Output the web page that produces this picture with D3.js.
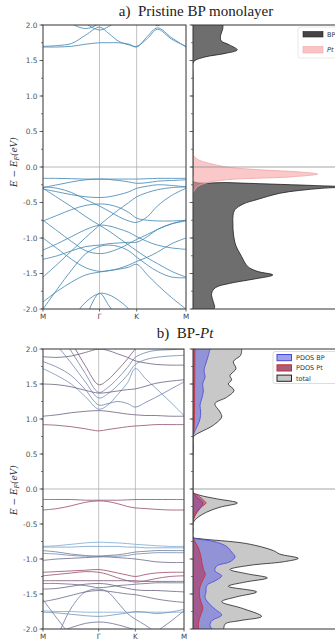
<!DOCTYPE html>
<html><head><meta charset="utf-8">
<script src="https://cdn.jsdelivr.net/npm/d3@7"></script>
<style>html,body{margin:0;padding:0;background:#fff}svg{display:block}</style>
</head><body>
<svg id="fig" width="335" height="642"></svg>
<script>
// ---- k-path and energy ticks ----
const kTicks = [0, 0.395, 0.655, 1];
const kTickLabels = ["M", "Γ", "K", "M"];
const kGrid = [0, 0.1, 0.2, 0.3, 0.395, 0.46, 0.53, 0.6, 0.655, 0.73, 0.8, 0.9, 1.0];
const energyTicks = [-2, -1.5, -1, -0.5, 0, 0.5, 1, 1.5, 2];
const energyMinorTicks = d3.range(-2, 2.001, 0.25);

// ---- bands of the pristine BP monolayer (eV, sampled on kGrid) ----
const bandsBP = [
  [1.69, 1.69, 1.70, 1.73, 1.75, 1.75, 1.75, 1.73, 1.69, 1.84, 1.96, 1.82, 1.69],
  [1.70, 1.71, 1.74, 1.86, 1.97, 1.88, 1.77, 1.72, 1.70, 1.81, 1.94, 1.80, 1.70],
  [2.60, 2.40, 2.20, 2.02, 1.93, 1.98, 2.08, 2.20, 2.30, 2.15, 1.99, 2.20, 2.40],
  [2.40, 2.20, 2.02, 1.95, 2.02, 2.10, 2.20, 2.30, 2.40, 2.30, 2.15, 2.30, 2.40],
  [-0.16, -0.16, -0.165, -0.17, -0.17, -0.17, -0.17, -0.17, -0.17, -0.165, -0.16, -0.16, -0.16],
  [-0.29, -0.25, -0.21, -0.18, -0.17, -0.175, -0.19, -0.21, -0.23, -0.22, -0.20, -0.19, -0.18],
  [-0.31, -0.35, -0.39, -0.42, -0.43, -0.42, -0.39, -0.35, -0.30, -0.27, -0.25, -0.26, -0.28],
  [-0.28, -0.30, -0.36, -0.46, -0.55, -0.62, -0.70, -0.76, -0.78, -0.70, -0.55, -0.40, -0.30],
  [-0.76, -0.68, -0.60, -0.54, -0.52, -0.53, -0.57, -0.64, -0.72, -0.75, -0.76, -0.76, -0.75],
  [-0.30, -0.43, -0.56, -0.70, -0.82, -0.90, -1.00, -1.10, -1.18, -1.28, -1.36, -1.47, -1.55],
  [-1.55, -1.37, -1.18, -0.99, -0.82, -0.71, -0.60, -0.50, -0.42, -0.36, -0.32, -0.29, -0.28],
  [-1.17, -1.08, -0.98, -0.88, -0.82, -0.83, -0.87, -0.92, -0.98, -1.05, -1.10, -1.14, -1.16],
  [-0.75, -0.90, -1.05, -1.18, -1.22, -1.20, -1.15, -1.08, -1.02, -0.95, -0.88, -0.80, -0.75],
  [-1.30, -1.25, -1.18, -1.12, -1.10, -1.08, -1.07, -1.06, -1.06, -0.98, -0.88, -0.80, -0.76],
  [-1.00, -1.15, -1.30, -1.42, -1.47, -1.46, -1.43, -1.38, -1.33, -1.27, -1.20, -1.08, -1.00],
  [-2.60, -2.40, -2.15, -1.90, -1.78, -1.80, -1.88, -2.00, -2.15, -2.30, -2.40, -2.50, -2.60],
  [-3.00, -2.75, -2.45, -2.10, -1.78, -1.95, -2.15, -2.40, -2.60, -2.80, -2.90, -3.00, -3.00],
  [-1.90, -1.75, -1.62, -1.52, -1.48, -1.46, -1.44, -1.41, -1.37, -1.52, -1.66, -1.84, -2.00],
  [-2.00, -1.72, -1.45, -1.22, -1.12, -1.10, -1.12, -1.18, -1.27, -1.38, -1.47, -1.55, -1.56]
];

// ---- bands of BP-Pt (eV, sampled on kGrid) and their Pt weight ----
const bandsBPPt = [
  [0.92, 0.91, 0.89, 0.86, 0.83, 0.85, 0.87, 0.89, 0.90, 0.91, 0.92, 0.92, 0.92],
  [1.04, 1.06, 1.09, 1.11, 1.12, 1.11, 1.09, 1.07, 1.06, 1.05, 1.05, 1.04, 1.04],
  [1.72, 1.62, 1.50, 1.32, 1.14, 1.20, 1.35, 1.52, 1.72, 1.57, 1.44, 1.25, 1.05],
  [1.82, 1.74, 1.62, 1.42, 1.20, 1.22, 1.25, 1.22, 1.17, 1.24, 1.31, 1.42, 1.53],
  [2.30, 2.05, 1.80, 1.53, 1.30, 1.36, 1.48, 1.63, 1.78, 1.85, 1.88, 1.90, 1.91],
  [2.50, 2.25, 1.97, 1.65, 1.38, 1.45, 1.58, 1.74, 1.88, 1.95, 1.98, 1.99, 2.00],
  [2.70, 2.40, 2.10, 1.76, 1.49, 1.56, 1.70, 1.86, 2.00, 2.10, 2.15, 2.15, 2.15],
  [1.50, 1.49, 1.46, 1.41, 1.37, 1.38, 1.40, 1.42, 1.43, 1.47, 1.51, 1.54, 1.56],
  [1.89, 1.88, 1.90, 1.95, 2.00, 1.98, 1.93, 1.88, 1.83, 1.80, 1.78, 1.77, 1.77],
  [-0.15, -0.15, -0.15, -0.16, -0.16, -0.16, -0.16, -0.155, -0.15, -0.15, -0.15, -0.15, -0.15],
  [-0.30, -0.28, -0.24, -0.19, -0.17, -0.18, -0.21, -0.25, -0.27, -0.28, -0.29, -0.30, -0.30],
  [-0.82, -0.81, -0.79, -0.77, -0.76, -0.765, -0.77, -0.78, -0.79, -0.80, -0.81, -0.82, -0.82],
  [-0.83, -0.83, -0.83, -0.82, -0.82, -0.82, -0.82, -0.83, -0.83, -0.84, -0.84, -0.84, -0.84],
  [-0.88, -0.90, -0.93, -0.95, -0.96, -0.95, -0.94, -0.92, -0.90, -0.89, -0.88, -0.88, -0.88],
  [-0.92, -0.93, -0.95, -0.96, -0.96, -0.96, -0.96, -0.95, -0.93, -0.92, -0.91, -0.91, -0.91],
  [-1.02, -1.00, -0.99, -0.98, -0.97, -0.97, -0.98, -0.99, -1.00, -1.02, -1.04, -1.05, -1.05],
  [-1.19, -1.18, -1.17, -1.16, -1.15, -1.17, -1.20, -1.23, -1.25, -1.22, -1.20, -1.19, -1.19],
  [-1.24, -1.22, -1.20, -1.18, -1.19, -1.22, -1.27, -1.31, -1.33, -1.31, -1.28, -1.25, -1.24],
  [-1.31, -1.31, -1.31, -1.31, -1.31, -1.31, -1.31, -1.31, -1.31, -1.32, -1.32, -1.32, -1.32],
  [-1.35, -1.35, -1.36, -1.38, -1.41, -1.40, -1.38, -1.37, -1.36, -1.35, -1.34, -1.34, -1.34],
  [-1.43, -1.42, -1.39, -1.36, -1.35, -1.36, -1.39, -1.42, -1.44, -1.45, -1.45, -1.46, -1.47],
  [-2.40, -2.10, -1.70, -1.47, -1.43, -1.47, -1.62, -1.78, -1.86, -1.95, -2.05, -2.20, -2.30],
  [-1.61, -1.57, -1.52, -1.47, -1.45, -1.46, -1.48, -1.50, -1.51, -1.54, -1.57, -1.60, -1.62],
  [-1.74, -1.75, -1.75, -1.76, -1.76, -1.76, -1.76, -1.76, -1.76, -1.76, -1.76, -1.76, -1.76],
  [-1.76, -1.77, -1.79, -1.81, -1.82, -1.81, -1.79, -1.77, -1.75, -1.76, -1.78, -1.76, -1.72],
  [-2.10, -2.05, -1.98, -1.92, -1.90, -1.91, -1.94, -1.98, -2.02, -2.20, -2.05, -1.90, -1.74],
  [-1.58, -1.85, -2.10, -2.30, -2.40, -2.40, -2.40, -2.40, -2.40, -2.40, -2.40, -2.40, -2.40]
];
const bandsBPPtWeight = [0.72, 0.5, 0.2, 0.3, 0.25, 0.3, 0.6, 0.5, 0.5,
  0.7, 0.75, 0.05, 0.1, 0.35, 0.25, 0.45, 0.8, 0.72, 0.62, 0.45, 0.5, 0.35, 0.45, 0.05, 0.2, 0.4, 0.35];

// ---- densities of states, pristine BP panel ----
const dosA_BP_E = [2.00, 1.94, 1.86, 1.78, 1.72, 1.65, 1.60, 1.55, 1.50, 1.46, 1.30, -0.10, -0.20, -0.22, -0.24, -0.26, -0.28, -0.30, -0.33, -0.37, -0.46, -0.52, -0.60, -0.68, -0.80, -0.93, -1.10, -1.26, -1.40, -1.47, -1.52, -1.58, -1.64, -1.70, -1.78, -1.90, -1.97, -2.00];
const dosA_BP = [2.14, 2.12, 1.98, 2.00, 2.60, 3.16, 2.30, 0.86, 0.14, 0, 0, 0, 0, 2.5, 5.5, 8.5, 10.8, 9.2, 7.6, 6.2, 4.55, 3.6, 3.0, 2.86, 2.85, 2.88, 3.05, 3.47, 3.9, 4.6, 5.7, 4.3, 2.6, 1.6, 1.33, 1.45, 1.55, 1.5];
const dosA_Pt_E = [0.20, 0.16, 0.10, 0.05, 0.00, -0.04, -0.07, -0.10, -0.14, -0.18, -0.23, -0.28, -0.32, -0.36, -0.50];
const dosA_Pt = [0, 0.05, 0.4, 1.2, 2.4, 4.8, 7.6, 8.9, 6.9, 2.4, 0.86, 0.3, 0.14, 0, 0];

// ---- densities of states, BP-Pt panel ----
const dosB_total_E = [2.00, 1.91, 1.82, 1.72, 1.62, 1.56, 1.50, 1.41, 1.31, 1.22, 1.10, 1.03, 0.91, 0.81, 0.77, 0.73, 0.60, -0.02, -0.05, -0.09, -0.14, -0.20, -0.26, -0.33, -0.42, -0.49, -0.60, -0.69, -0.71, -0.78, -0.88, -0.93, -0.99, -1.04, -1.09, -1.15, -1.21, -1.27, -1.33, -1.39, -1.47, -1.54, -1.61, -1.71, -1.82, -1.88, -1.93, -2.02];
const dosB_total = [3.48, 3.40, 2.88, 3.07, 2.64, 2.76, 2.52, 2.93, 2.40, 1.57, 1.93, 2.05, 1.45, 0.50, 0.14, 0, 0, 0, 0, 0.5, 1.69, 3.17, 1.93, 0.98, 0.26, 0, 0, 0, 0.5, 3.83, 5.74, 6.2, 7.52, 6.45, 4.07, 2.64, 3.83, 5.31, 3.71, 2.52, 4.55, 3.12, 2.05, 3.6, 4.9, 3.36, 2.29, 2.2];
const dosB_BP_E = [2.00, 1.91, 1.80, 1.70, 1.60, 1.50, 1.40, 1.30, 1.20, 1.10, 1.00, 0.90, 0.80, 0.73, 0.60, -0.05, -0.12, -0.20, -0.28, -0.36, -0.45, -0.69, -0.72, -0.75, -0.82, -0.90, -0.97, -1.04, -1.10, -1.17, -1.24, -1.30, -1.38, -1.47, -1.55, -1.65, -1.72, -1.80, -1.88, -1.95, -2.02];
const dosB_BP = [1.21, 1.10, 0.93, 0.79, 0.86, 0.69, 0.74, 0.64, 0.50, 0.55, 0.50, 0.31, 0.07, 0, 0, 0, 0.3, 0.7, 0.5, 0.2, 0, 0, 0.55, 1.5, 2.4, 2.76, 3.0, 2.64, 1.69, 1.57, 2.05, 1.69, 0.98, 0.93, 0.86, 1.21, 1.6, 2.05, 1.36, 1.21, 1.45];
const dosB_Pt_E = [2.00, 1.50, 1.00, 0.80, 0.73, 0.60, -0.04, -0.10, -0.16, -0.20, -0.26, -0.33, -0.42, -0.49, -0.60, -0.69, -0.75, -0.85, -0.95, -1.05, -1.15, -1.22, -1.30, -1.40, -1.50, -1.60, -1.70, -1.80, -1.90, -2.02];
const dosB_Pt = [0.14, 0.12, 0.10, 0.05, 0, 0, 0, 0.4, 0.76, 0.93, 0.57, 0.26, 0.07, 0, 0, 0, 0.14, 0.4, 0.55, 0.64, 0.75, 0.88, 0.7, 0.5, 0.45, 0.55, 0.7, 0.55, 0.4, 0.4];

// ---- drawing ----
const svg = d3.select("#fig");
svg.append("rect").attr("width", 335).attr("height", 642).attr("fill", "#fff");
const defs = svg.append("defs");
const tickFont = "'DejaVu Sans', sans-serif";

const ptColor = d3.scaleLinear().domain([0, 0.5, 1])
  .range(["#7db3dc", "#6a6282", "#c2385c"]).interpolate(d3.interpolateRgb);

function clip(id, x0, y0, x1, y1) {
  defs.append("clipPath").attr("id", id).append("rect")
    .attr("x", x0).attr("y", y0).attr("width", x1 - x0).attr("height", y1 - y0);
  return `url(#${id})`;
}

function energyAxis(g, y, x0, labels) {
  const ax = g.append("g").attr("transform", `translate(${x0},0)`);
  ax.selectAll("line.minor").data(energyMinorTicks).join("line")
    .attr("x1", -2).attr("x2", 0).attr("y1", d => y(d)).attr("y2", d => y(d))
    .attr("stroke", "#444").attr("stroke-width", 0.7);
  ax.selectAll("line.major").data(energyTicks).join("line")
    .attr("x1", -3.5).attr("x2", 0).attr("y1", d => y(d)).attr("y2", d => y(d))
    .attr("stroke", "#444").attr("stroke-width", 0.8);
  if (labels) {
    ax.selectAll("text").data(energyTicks).join("text")
      .attr("x", -5.5).attr("y", d => y(d)).attr("dy", "0.35em")
      .attr("text-anchor", "end").attr("font-family", tickFont)
      .attr("font-size", 7.4).attr("fill", "#555")
      .text(d => d.toFixed(1));
  }
}

function bandPanel(cfg) {
  const x = d3.scaleLinear().domain([0, 1]).range([cfg.x0, cfg.x1]);
  const y = d3.scaleLinear().domain([-2, 2]).range([cfg.y1, cfg.y0]);
  const g = svg.append("g");
  // guides at the high-symmetry points and the Fermi level
  g.selectAll("line.kv").data(kTicks.slice(1, 3)).join("line")
    .attr("x1", d => x(d)).attr("x2", d => x(d)).attr("y1", cfg.y0).attr("y2", cfg.y1)
    .attr("stroke", "#b4b4b4").attr("stroke-width", 0.8);
  g.append("line").attr("x1", cfg.x0).attr("x2", cfg.x1).attr("y1", y(0)).attr("y2", y(0))
    .attr("stroke", "#b0b0b0").attr("stroke-width", 0.9);
  const line = d3.line().x((d, i) => x(kGrid[i])).y(d => y(d))
    .curve(d3.curveCatmullRom.alpha(0.5));
  const lg = g.append("g").attr("clip-path", clip(cfg.id, cfg.x0, cfg.y0, cfg.x1, cfg.y1));
  lg.selectAll("path").data(cfg.bands).join("path")
    .attr("d", line).attr("fill", "none")
    .attr("stroke", (d, i) => cfg.color(i)).attr("stroke-width", cfg.width)
    .attr("stroke-opacity", 0.9);
  // frame
  g.append("rect").attr("x", cfg.x0).attr("y", cfg.y0)
    .attr("width", cfg.x1 - cfg.x0).attr("height", cfg.y1 - cfg.y0)
    .attr("fill", "none").attr("stroke", "#333").attr("stroke-width", 1);
  energyAxis(g, y, cfg.x0, true);
  // k-point labels
  g.selectAll("line.kt").data(kTicks).join("line")
    .attr("x1", d => x(d)).attr("x2", d => x(d)).attr("y1", cfg.y1).attr("y2", cfg.y1 + 2.5)
    .attr("stroke", "#444").attr("stroke-width", 0.8);
  g.selectAll("text.kl").data(kTicks).join("text")
    .attr("x", d => x(d)).attr("y", cfg.y1 + 10)
    .attr("text-anchor", "middle").attr("font-family", tickFont)
    .attr("font-size", 7.2).attr("fill", "#444")
    .text((d, i) => kTickLabels[i]);
  // axis title
  const t = g.append("text")
    .attr("transform", `translate(17,${cfg.labelY}) rotate(-90)`)
    .attr("text-anchor", "middle").attr("font-family", "'DejaVu Serif', serif")
    .attr("font-style", "italic").attr("font-size", 9).attr("fill", "#333");
  t.append("tspan").text("E − E");
  t.append("tspan").attr("font-size", 6.5).attr("dy", 2).text("F");
  t.append("tspan").attr("dy", -2).text("(eV)");
  return y;
}

function dosPanel(cfg) {
  const y = d3.scaleLinear().domain([-2, 2]).range([cfg.y1, cfg.y0]);
  const x = d3.scaleLinear().domain([0, 10]).range([193, 333]);
  const g = svg.append("g");
  const body = g.append("g").attr("clip-path", clip(cfg.id, 193, cfg.y0, 335, cfg.y1));
  cfg.series.forEach(s => {
    const pts = s.E.map((e, i) => [e, s.v[i]]);
    const area = d3.area().y(d => y(d[0])).x0(x(0)).x1(d => x(d[1]))
      .curve(d3.curveCatmullRom.alpha(0.5));
    const edge = d3.line().y(d => y(d[0])).x(d => x(d[1]))
      .curve(d3.curveCatmullRom.alpha(0.5));
    body.append("path").attr("d", area(pts)).attr("fill", s.fill)
      .attr("fill-opacity", s.opacity);
    body.append("path").attr("d", edge(pts)).attr("fill", "none")
      .attr("stroke", s.stroke).attr("stroke-width", s.sw);
  });
  body.append("line").attr("x1", 193).attr("x2", 335).attr("y1", y(0)).attr("y2", y(0))
    .attr("stroke", "#9a9a9a").attr("stroke-width", 0.9);
  // frame (right side runs off the figure)
  g.append("path")
    .attr("d", `M340,${cfg.y0}H193V${cfg.y1}H340`)
    .attr("fill", "none").attr("stroke", "#333").attr("stroke-width", 1);
  energyAxis(g, y, 193, false);
}

// ---- panel a ----
svg.append("text").attr("x", 196).attr("y", 16).attr("text-anchor", "middle")
  .attr("font-family", "'Liberation Serif', serif").attr("font-size", 15).attr("fill", "#222")
  .attr("xml:space", "preserve").text("a)  Pristine BP monolayer");
bandPanel({ id: "ca", x0: 43, x1: 186, y0: 25, y1: 309, bands: bandsBP,
  color: () => "#4a8bb6", width: 0.95, labelY: 162 });
dosPanel({ id: "da", y0: 25, y1: 309, series: [
  { E: dosA_BP_E, v: dosA_BP, fill: "#6e6e6e", opacity: 1, stroke: "#1e1e1e", sw: 0.8 },
  { E: dosA_Pt_E, v: dosA_Pt, fill: "#f59a9a", opacity: 0.55, stroke: "#f2a4a4", sw: 0.8 }
]});
// legend a
const la = svg.append("g");
la.append("rect").attr("x", 298).attr("y", 27).attr("width", 45).attr("height", 31)
  .attr("rx", 2).attr("fill", "#fff").attr("fill-opacity", 0.85).attr("stroke", "#e2e2e2").attr("stroke-width", 0.8);
la.append("rect").attr("x", 303).attr("y", 31.5).attr("width", 20).attr("height", 5.5)
  .attr("fill", "#444").attr("stroke", "#222").attr("stroke-width", 0.6);
la.append("text").attr("x", 327).attr("y", 36.5).attr("font-family", tickFont)
  .attr("font-size", 6.5).attr("fill", "#333").text("BP");
la.append("rect").attr("x", 303).attr("y", 46.5).attr("width", 20).attr("height", 6.5)
  .attr("fill", "#f9c3c3").attr("stroke", "#f0a8a8").attr("stroke-width", 0.6);
la.append("text").attr("x", 327).attr("y", 52).attr("font-family", tickFont)
  .attr("font-style", "italic").attr("font-size", 6.5).attr("fill", "#333").text("Pt");

// ---- panel b ----
const tb = svg.append("text").attr("x", 185).attr("y", 338).attr("text-anchor", "middle")
  .attr("font-family", "'Liberation Serif', serif").attr("font-size", 15).attr("fill", "#222")
  .attr("xml:space", "preserve");
tb.append("tspan").text("b)  BP-");
tb.append("tspan").attr("font-style", "italic").text("Pt");
bandPanel({ id: "cb", x0: 43, x1: 184, y0: 349, y1: 629, bands: bandsBPPt,
  color: i => ptColor(bandsBPPtWeight[i]), width: 0.9, labelY: 490 });
dosPanel({ id: "db", y0: 349, y1: 629, series: [
  { E: dosB_total_E, v: dosB_total, fill: "#c8c8c8", opacity: 1, stroke: "#222", sw: 0.8 },
  { E: dosB_BP_E, v: dosB_BP, fill: "#5050e6", opacity: 0.45, stroke: "#4646e0", sw: 0.8 },
  { E: dosB_Pt_E, v: dosB_Pt, fill: "#b41e46", opacity: 0.5, stroke: "#d42a2a", sw: 0.8 }
]});
// legend b
const lb = svg.append("g");
lb.append("rect").attr("x", 273).attr("y", 351.5).attr("width", 70).attr("height", 32)
  .attr("rx", 2).attr("fill", "#fff").attr("fill-opacity", 0.85).attr("stroke", "#d4d4d4").attr("stroke-width", 0.8);
const legB = [
  { label: "PDOS BP", fill: "#a2a2e6", stroke: "#4646e0" },
  { label: "PDOS Pt", fill: "#a0607e", stroke: "#d42a2a" },
  { label: "total", fill: "#c8c8c8", stroke: "#222" }
];
legB.forEach((d, i) => {
  const yy = 354.5 + i * 10.3;
  lb.append("rect").attr("x", 277).attr("y", yy).attr("width", 14.5).attr("height", 6.2)
    .attr("fill", d.fill).attr("stroke", d.stroke).attr("stroke-width", 1);
  lb.append("text").attr("x", 296).attr("y", yy + 5.6).attr("font-family", tickFont)
    .attr("font-size", 6.5).attr("fill", "#333").text(d.label);
});
</script>
</body></html>
